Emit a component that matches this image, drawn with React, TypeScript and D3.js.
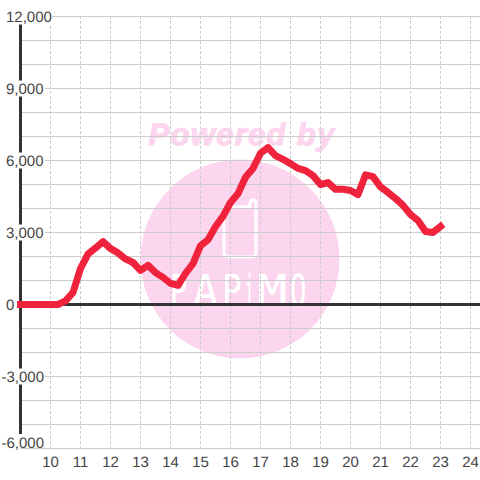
import React from 'react';
import * as d3 from 'd3';

const width = 480;
const height = 480;

// hour of day, one reading every 15 minutes
const hours = [
  9, 9.25, 9.5, 9.75, 10, 10.25, 10.5, 10.75, 11, 11.25, 11.5, 11.75, 12, 12.25, 12.5, 12.75,
  13, 13.25, 13.5, 13.75, 14, 14.25, 14.5, 14.75, 15, 15.25, 15.5, 15.75, 16, 16.25, 16.5, 16.75,
  17, 17.25, 17.5, 17.75, 18, 18.25, 18.5, 18.75, 19, 19.25, 19.5, 19.75, 20, 20.25, 20.5, 20.75,
  21, 21.25, 21.5, 21.75, 22, 22.25, 22.5, 22.75, 23,
];
const profit = [
  0, 0, 0, 0, 0, 0, 150, 500, 1500, 2100, 2350, 2620, 2330, 2150, 1900, 1750,
  1420, 1630, 1330, 1130, 880, 800, 1300, 1700, 2450, 2700, 3250, 3670, 4250, 4620, 5300, 5670,
  6300, 6540, 6200, 6050, 5870, 5670, 5580, 5370, 5000, 5080, 4800, 4800, 4750, 4580, 5400, 5330,
  4900, 4670, 4420, 4130, 3750, 3500, 3040, 3000, 3250,
];
const xTicks = [10, 11, 12, 13, 14, 15, 16, 17, 18, 19, 20, 21, 22, 23, 24];
const yGrid = [12000, 11000, 10000, 9000, 8000, 7000, 6000, 5000, 4000, 3000, 2000, 1000, 0, -1000, -2000, -3000, -4000, -5000, -6000];
const yLabels = [12000, 9000, 6000, 3000, 0, -3000, -6000];

const x = d3.scaleLinear().domain([9, 24]).range([20.5, 470.5]);
const y = d3.scaleLinear().domain([-6000, 12000]).range([448.5, 16.5]);
const fmt = d3.format(',');

const line = d3.line<number>()
  .x((d, i) => x(hours[i]))
  .y(d => y(d));

const font = '"Liberation Sans", Arial, sans-serif';
const textColor = '#444';
const gridColor = '#ccc';
const axisColor = '#333';
const pink = '#fcd6ee';

const labelWidth = (v: number) => (v === 0 ? 19 : v === 12000 ? 52 : 45);
// the lowest label is pushed up so it stays clear of the x labels
const labelY = (v: number) => (v === -6000 ? y(v) - 6.5 : y(v));

// logo lettering is narrow and unevenly spaced, so each letter gets its own squeeze
const logoLetters: [string, number, number][] = [
  ['P', 170, 0.65],
  ['A', 193, 0.95],
  ['P', 222, 0.75],
  ['i', 244, 0.4],
  ['M', 257, 1.15],
  ['O', 290, 0.62],
];

export default function App() {
  return (
    <svg width={width} height={height} style={{ position: 'absolute', left: 0, top: 0 }} fontFamily={font} textRendering="geometricPrecision">
      <rect width={width} height={height} fill="#fff" />

      {/* watermark */}
      <g>
        <circle cx={240} cy={259} r={99.5} fill={pink} />
        <text x={242} y={144.5} textAnchor="middle" fontSize={31} fontWeight="bold" fontStyle="italic" letterSpacing={1.3} fill={pink} stroke={pink} strokeWidth={1.2}>
          Powered by
        </text>
        <path
          d="M250 207 L229 207 Q224 207 224 212 L224 252 Q224 257 229 257 L251 257 Q256 257 256 252 L256 203 Q256 200 253 200 Q250 200 250 203 Z"
          fill="none"
          stroke="#fff"
          strokeWidth={3}
        />
        {logoLetters.map(([ch, lx, sx], i) => (
          <text key={i} transform={`translate(${lx},306) scale(${sx},1)`} fontSize={44} fontFamily='"DejaVu Sans Mono", monospace' fill="#fff">
            {ch}
          </text>
        ))}
      </g>

      {/* grid */}
      {xTicks.map(t => (
        <line key={t} x1={x(t)} x2={x(t)} y1={16} y2={448} stroke={gridColor} strokeDasharray="3 2" />
      ))}
      {yGrid.map(v => (
        <line key={v} x1={20} x2={width} y1={y(v)} y2={y(v)} stroke={gridColor} />
      ))}

      {/* axes */}
      <line x1={x(9)} x2={x(9)} y1={16} y2={448} stroke={axisColor} strokeWidth={3} />
      <line x1={20} x2={width} y1={y(0)} y2={y(0)} stroke={axisColor} strokeWidth={3} />

      {/* y labels sit on a white box that cuts the axis */}
      {yLabels.map(v => (
        <g key={v}>
          <rect x={0} y={labelY(v) - 8} width={labelWidth(v)} height={v === -6000 ? 14 : 16} fill="#fff" />
          <text x={v < 0 ? 1.5 : 6} y={labelY(v) + 5.5} fontSize={15} fill={textColor}>
            {fmt(v).replace('−', '-')}
          </text>
        </g>
      ))}

      {xTicks.map(t => (
        <text key={t} x={x(t)} y={467} textAnchor="middle" fontSize={15} fill={textColor}>
          {t}
        </text>
      ))}

      <path
        d={line(profit) ?? ''}
        fill="none"
        stroke="#f0233c"
        strokeWidth={7}
        strokeLinecap="square"
        strokeLinejoin="round"
      />
    </svg>
  );
}
